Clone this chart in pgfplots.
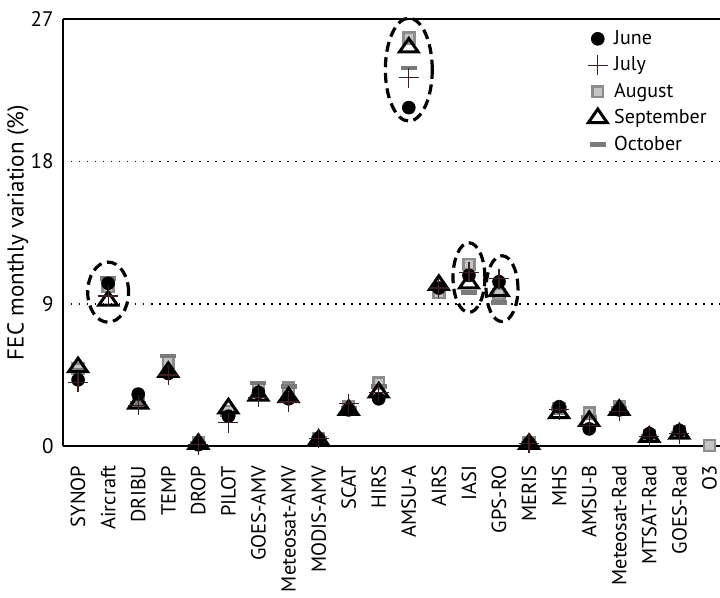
\documentclass[border=0pt]{standalone}
\usepackage{pgfplots}
\usepackage{pgfplotstable}
\pgfplotsset{compat=1.18}
\usepackage{fontspec}
\setmainfont{PT Sans}
\definecolor{sqfill}{HTML}{C4C4C4}
\definecolor{sqdraw}{HTML}{8C8C8C}
\definecolor{octc}{HTML}{7A7A7A}
\definecolor{julc}{HTML}{3A2020}

\pgfplotstableread{
x june july aug sep oct
0 4.2 4.05 4.9 5.0 4.8
1 10.3 9.5 10.1 9.2 10.6
2 3.3 2.6 2.8 2.7 2.7
3 4.6 4.5 5.3 4.7 5.7
4 0.1 0.1 0.2 0.15 0.2
5 1.9 1.5 2.2 2.4 2.0
6 3.4 3.1 3.7 3.2 4.0
7 3.0 2.8 3.7 3.1 3.8
8 0.5 0.5 0.5 0.4 0.5
9 2.3 2.7 2.5 2.3 2.4
10 3.0 3.4 4.0 3.4 3.8
11 21.4 23.3 25.8 25.2 23.9
12 10.0 10.0 9.7 10.2 10.1
13 10.8 11.0 11.5 10.3 9.7
14 10.4 10.6 9.6 9.8 9.1
15 0.2 0.2 0.2 0.15 0.2
16 2.5 2.3 2.4 2.1 2.4
17 1.1 1.3 2.1 1.6 1.8
18 2.3 2.2 2.5 2.3 2.4
19 0.8 0.6 0.7 0.6 0.6
20 1.0 0.8 0.9 0.8 0.8
21 nan nan 0.05 nan nan
}\datatable

\pgfplotsset{
  junst/.style={only marks, mark=*, mark size=3.2pt, mark options={fill=black, draw=black}},
  julst/.style={only marks, mark=+, mark size=5pt, mark options={draw=julc, line width=0.6pt}},
  augst/.style={only marks, mark=square*, mark size=2.7pt, mark options={fill=sqfill, draw=sqdraw, line width=1.3pt}},
  sepst/.style={only marks, mark=triangle, mark size=4.5pt, mark options={draw=black, fill=none, line width=1.5pt, xscale=1.2}},
  octst/.style={only marks, mark=-, mark size=4pt, mark options={draw=octc, line width=2.4pt}},
  mylegimg/.style={legend image code/.code={\draw[##1] plot coordinates {(0pt,0pt)};}},
}

\begin{document}
\begin{tikzpicture}
\begin{axis}[
  scale only axis,
  width=328.25pt, height=213.5pt,
  xmin=-0.5, xmax=21.35,
  ymin=0, ymax=27,
  clip=false,
  axis lines=left,
  axis line style={-, line width=1pt},
  major tick length=0pt,
  ytick={0,9,18,27},
  ymajorgrids,
  grid style={black, line width=0.7pt, dash pattern=on 0.7pt off 3.3pt},
  xtick={0,...,21},
  xticklabels={SYNOP,Aircraft,DRIBU,TEMP,DROP,PILOT,GOES-AMV,Meteosat-AMV,MODIS-AMV,SCAT,HIRS,AMSU-A,AIRS,IASI,GPS-RO,MERIS,MHS,AMSU-B,Meteosat-Rad,MTSAT-Rad,GOES-Rad,O3},
  x tick label style={rotate=90, anchor=east, inner xsep=9.5pt, inner ysep=0pt, font=\fontsize{10.2}{12}\selectfont},
  y tick label style={anchor=east, inner xsep=4.5pt, inner ysep=0pt, font=\fontsize{10.5}{12}\selectfont},
  /pgf/number format/assume math mode=true,
  ylabel={FEC monthly variation (\%)},
  ylabel style={at={(axis description cs:-0.0686,0.5)}, anchor=center, font=\fontsize{11.5}{13}\selectfont},
  legend style={draw=none, fill=none, at={(rel axis cs:0.789,0.992)}, anchor=north west,
    font=\fontsize{10}{12}\selectfont, legend cell align=left,
    nodes={inner sep=1pt, text height=7.8pt, text depth=2.2pt}, row sep=1.2pt,
    /tikz/every odd column/.append style={column sep=2.2pt}},
]
\addlegendimage{junst, mylegimg}
\addlegendimage{julst, mylegimg}
\addlegendimage{augst, mylegimg}
\addlegendimage{sepst, mylegimg}
\addlegendimage{octst, mylegimg}
\legend{June,July,August,September,October}

\addplot[augst, forget plot] table[x=x, y=aug] {\datatable};
\addplot[octst, forget plot] table[x=x, y=oct] {\datatable};
\addplot[junst, forget plot] table[x=x, y=june] {\datatable};
\addplot[sepst, forget plot] table[x=x, y=sep] {\datatable};
\addplot[julst, forget plot] table[x=x, y=july] {\datatable};

\draw[line width=1pt] (rel axis cs:0,1) -- (rel axis cs:1,1);

\draw[line width=1.6pt, dash pattern=on 5pt off 2.8pt] (axis cs:1,9.74) ellipse [x radius=0.68, y radius=1.9];
\draw[line width=1.6pt, dash pattern=on 5pt off 2.8pt] (axis cs:11,23.8) ellipse [x radius=0.78, y radius=3.25];
\draw[line width=1.6pt, dash pattern=on 5pt off 2.8pt] (axis cs:13,10.66) ellipse [x radius=0.53, y radius=2.2];
\draw[line width=1.6pt, dash pattern=on 5pt off 2.8pt] (axis cs:14.1,9.96) ellipse [x radius=0.53, y radius=2.08];
\end{axis}
\pgfresetboundingbox
\path[use as bounding box] (-31.5pt,-75.5pt) rectangle (328.25pt,223pt);
\end{tikzpicture}
\end{document}
